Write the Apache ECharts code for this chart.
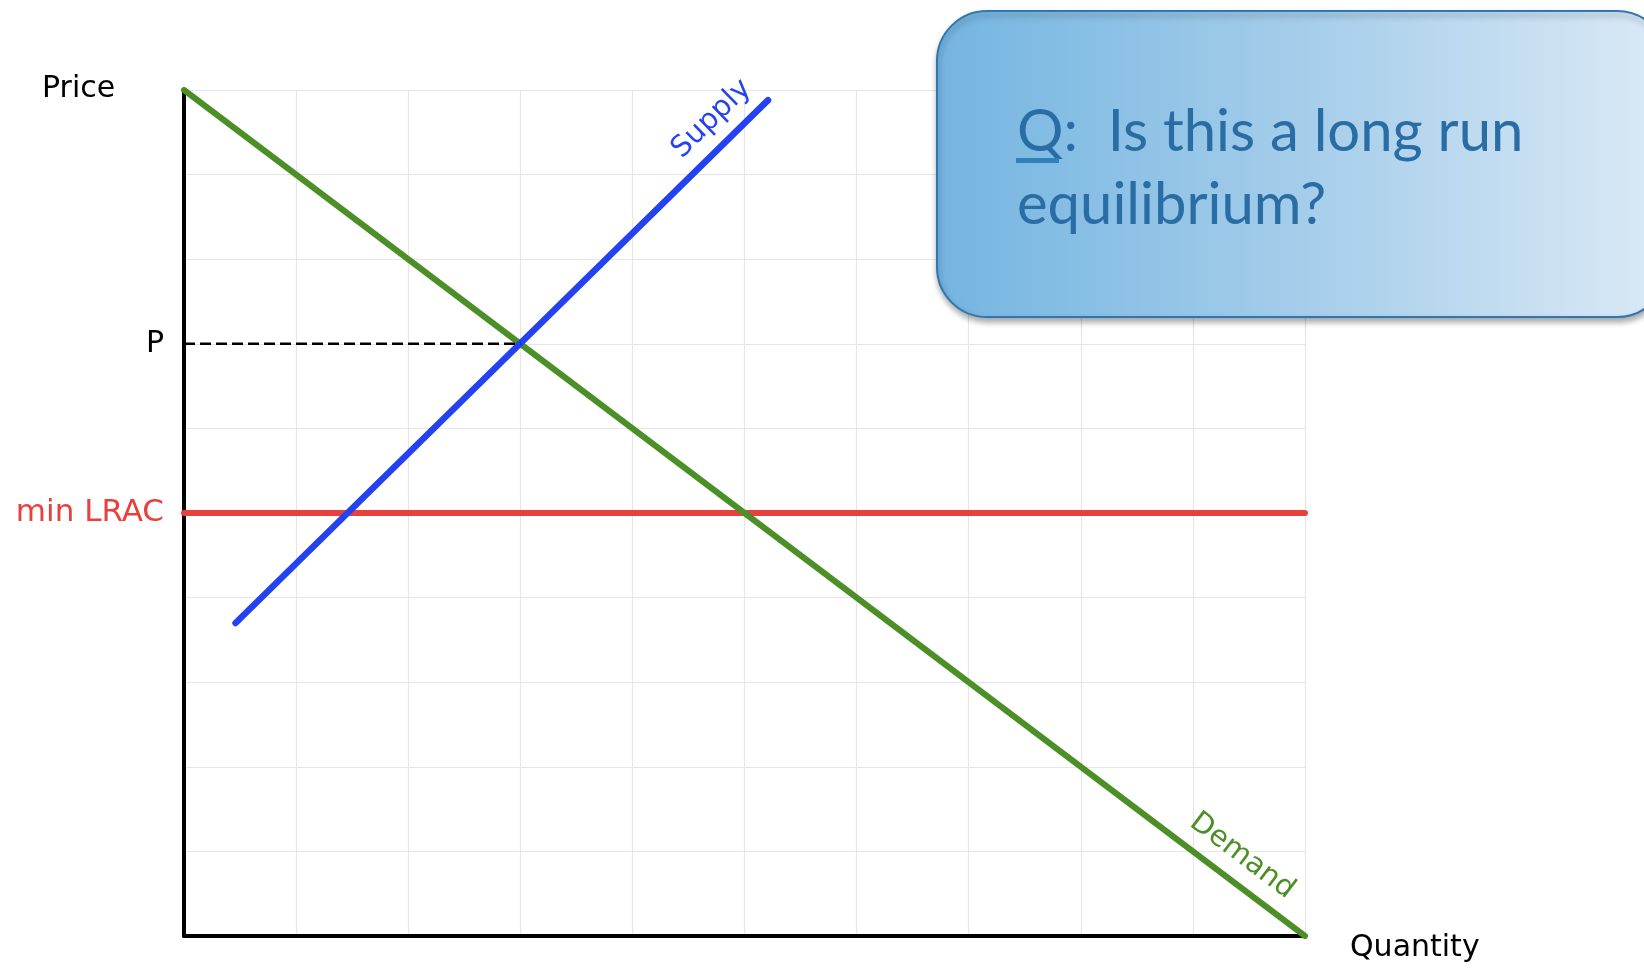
<!DOCTYPE html>
<html>
<head>
<meta charset="utf-8">
<title>Long run equilibrium</title>
<script src="https://cdn.jsdelivr.net/npm/echarts@6/dist/echarts.min.js"></script>
<style>
  html, body { margin: 0; padding: 0; background: #fff; }
  #chart { width: 1644px; height: 968px; }
</style>
</head>
<body>
<div id="chart"></div>
<script>
// data (quantity / price units, grid of 10 x 10)
const demandQ = [0, 10];
const demandP = [10, 0];
const supplyQ = [0.46, 5.21];
const supplyP = [3.7, 9.88];
const lracQ = [0, 10];
const lracP = [5, 5];
const eqQ = [0, 3];      // dashed guide to the P tick
const eqP = [7, 7];

const priceTicks = [7, 5];
const priceTickLabels = ['P', 'min LRAC'];

const labelFont = '"DejaVu Sans", sans-serif';
const GREEN = '#4b8f26';
const BLUE = '#2442f2';
const RED = '#e8403c';

const chart = echarts.init(document.getElementById('chart'));

function pairs(xs, ys) {
  return xs.map((x, i) => [x, ys[i]]);
}

const option = {
  animation: false,
  grid: { left: 184, right: 339, top: 90, bottom: 32 },
  xAxis: {
    type: 'value', min: 0, max: 10, interval: 1,
    axisLine: { lineStyle: { color: '#000', width: 4 } },
    axisTick: { show: false },
    axisLabel: { show: false },
    splitLine: { lineStyle: { color: '#e6e6e6', width: 1.2 } }
  },
  yAxis: {
    type: 'value', min: 0, max: 10, interval: 1,
    axisLine: { show: true, lineStyle: { color: '#000', width: 4 } },
    axisTick: { show: false },
    splitLine: { lineStyle: { color: '#e6e6e6', width: 1.2 } },
    axisLabel: {
      margin: 20,
      fontFamily: labelFont,
      fontSize: 30,
      color: '#000',
      formatter: function (v) {
        const i = priceTicks.indexOf(v);
        if (i < 0) return '';
        return i === 1 ? '{r|' + priceTickLabels[i] + '}' : priceTickLabels[i];
      },
      rich: {
        r: { color: RED, fontFamily: labelFont, fontSize: 31 }
      }
    }
  },
  series: [
    {
      name: 'min LRAC', type: 'line', data: pairs(lracQ, lracP),
      symbol: 'none', lineStyle: { color: RED, width: 6, cap: 'round' }, z: 2
    },
    {
      name: 'Demand', type: 'line', data: pairs(demandQ, demandP),
      symbol: 'none', lineStyle: { color: GREEN, width: 6, cap: 'round' }, z: 3
    },
    {
      name: 'Supply', type: 'line', data: pairs(supplyQ, supplyP),
      symbol: 'none', lineStyle: { color: BLUE, width: 6.5, cap: 'round' }, z: 4
    },
    {
      name: 'P', type: 'line', data: pairs(eqQ, eqP),
      symbol: 'none', lineStyle: { color: '#000', width: 2.5, type: [11, 5] }, z: 5
    }
  ]
};

chart.setOption(option);

// rotated curve labels placed along each line
function lineLabel(text, qs, ps, at, gap, color) {
  const a = chart.convertToPixel({ gridIndex: 0 }, [qs[0], ps[0]]);
  const b = chart.convertToPixel({ gridIndex: 0 }, [qs[1], ps[1]]);
  const t = (at - qs[0]) / (qs[1] - qs[0]);
  const foot = chart.convertToPixel({ gridIndex: 0 }, [at, ps[0] + t * (ps[1] - ps[0])]);
  const rot = Math.atan2(-(b[1] - a[1]), b[0] - a[0]);
  return {
    type: 'text',
    x: foot[0] - gap * Math.sin(rot),
    y: foot[1] - gap * Math.cos(rot),
    rotation: rot,
    z: 10,
    style: {
      text: text, fill: color, fontFamily: labelFont, fontSize: 29,
      align: 'center', verticalAlign: 'middle'
    }
  };
}

chart.setOption({
  graphic: [
    { type: 'text', x: 42, y: 89, style: { text: 'Price', fill: '#000', fontFamily: labelFont, fontSize: 30, verticalAlign: 'middle' } },
    { type: 'text', x: 1350, y: 948, style: { text: 'Quantity', fill: '#000', fontFamily: labelFont, fontSize: 30, verticalAlign: 'middle' } },
    lineLabel('Supply', supplyQ, supplyP, 4.87, 26, BLUE),
    lineLabel('Demand', demandQ, demandP, 9.3, 26, GREEN),
    {
      type: 'rect', z: 20,
      shape: { x: 937, y: 11, width: 730, height: 306, r: 50 },
      style: {
        fill: {
          type: 'linear', x: 0, y: 0, x2: 1, y2: 0,
          colorStops: [
            { offset: 0, color: '#74b5e1' },
            { offset: 0.5, color: '#a5cdea' },
            { offset: 1, color: '#dbeaf6' }
          ]
        },
        stroke: '#2f76b2', lineWidth: 2,
        shadowBlur: 6, shadowOffsetX: 1, shadowOffsetY: 4, shadowColor: 'rgba(0,0,0,0.35)'
      }
    },
    { type: 'text', z: 21, x: 1017, y: 132, style: { text: 'Q:  Is this a long run', fill: '#2a6da5', fontFamily: 'Lato', fontSize: 58, verticalAlign: 'middle' } },
    { type: 'text', z: 21, x: 1017, y: 205, style: { text: 'equilibrium?', fill: '#2a6da5', fontFamily: 'Lato', fontSize: 58, verticalAlign: 'middle' } },
    { type: 'rect', z: 21, shape: { x: 1016, y: 158, width: 43, height: 5 }, style: { fill: '#2e82b9' } }
  ]
});
</script>
</body>
</html>
